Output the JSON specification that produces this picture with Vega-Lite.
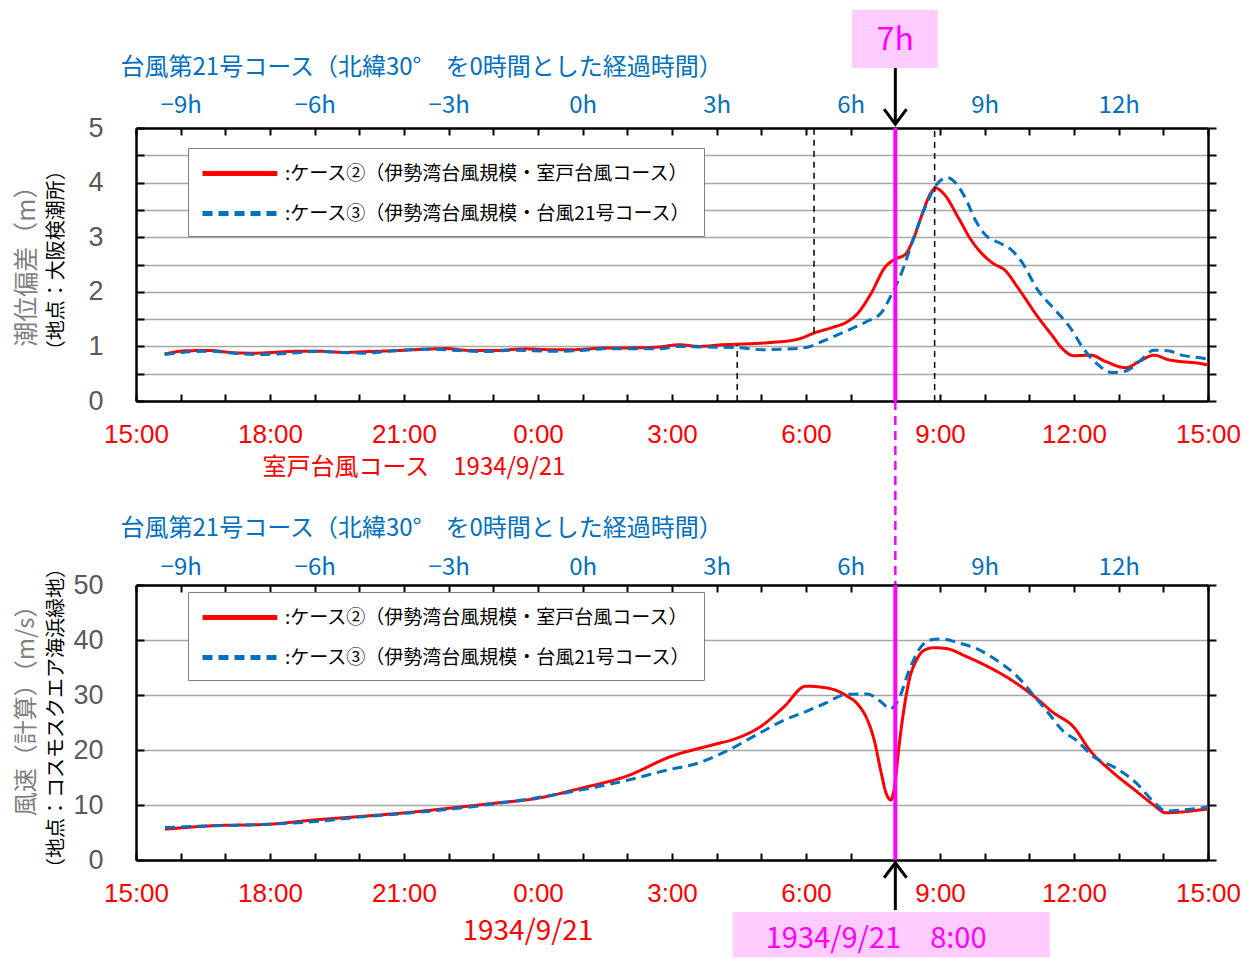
{
 "$schema": "https://vega.github.io/schema/vega-lite/v6.json",
 "padding": {"left": 15, "top": 10, "right": 0, "bottom": 0},
 "background": "white",
 "config": {"view": {"stroke": null}, "font": "Noto Sans CJK JP"},
 "datasets": {
  "top": [
   {"h":0.64,"v":0.86,"s":"case2"},{"h":1.13,"v":0.92,"s":"case2"},{"h":1.66,"v":0.925,"s":"case2"},{"h":2.1,"v":0.89,"s":"case2"},{"h":2.63,"v":0.875,"s":"case2"},{"h":3.07,"v":0.89,"s":"case2"},{"h":3.6,"v":0.91,"s":"case2"},{"h":4.13,"v":0.91,"s":"case2"},{"h":4.66,"v":0.89,"s":"case2"},{"h":5.19,"v":0.905,"s":"case2"},{"h":5.9,"v":0.925,"s":"case2"},{"h":6.51,"v":0.95,"s":"case2"},{"h":6.95,"v":0.96,"s":"case2"},{"h":7.48,"v":0.925,"s":"case2"},{"h":8.01,"v":0.925,"s":"case2"},{"h":8.72,"v":0.955,"s":"case2"},{"h":9.25,"v":0.94,"s":"case2"},{"h":9.78,"v":0.94,"s":"case2"},{"h":10.49,"v":0.97,"s":"case2"},{"h":11.28,"v":0.975,"s":"case2"},{"h":11.72,"v":0.99,"s":"case2"},{"h":12.16,"v":1.03,"s":"case2"},{"h":12.62,"v":1.0,"s":"case2"},{"h":13.13,"v":1.03,"s":"case2"},{"h":13.48,"v":1.04,"s":"case2"},{"h":14.19,"v":1.07,"s":"case2"},{"h":14.81,"v":1.13,"s":"case2"},{"h":15.2,"v":1.25,"s":"case2"},{"h":15.6,"v":1.35,"s":"case2"},{"h":15.9,"v":1.44,"s":"case2"},{"h":16.14,"v":1.59,"s":"case2"},{"h":16.45,"v":1.96,"s":"case2"},{"h":16.77,"v":2.45,"s":"case2"},{"h":17.0,"v":2.6,"s":"case2"},{"h":17.23,"v":2.69,"s":"case2"},{"h":17.39,"v":2.94,"s":"case2"},{"h":17.63,"v":3.49,"s":"case2"},{"h":17.78,"v":3.79,"s":"case2"},{"h":17.9,"v":3.9,"s":"case2"},{"h":18.09,"v":3.79,"s":"case2"},{"h":18.41,"v":3.36,"s":"case2"},{"h":18.68,"v":2.97,"s":"case2"},{"h":18.95,"v":2.69,"s":"case2"},{"h":19.19,"v":2.52,"s":"case2"},{"h":19.46,"v":2.39,"s":"case2"},{"h":19.74,"v":2.08,"s":"case2"},{"h":20.2,"v":1.53,"s":"case2"},{"h":20.52,"v":1.19,"s":"case2"},{"h":20.75,"v":0.95,"s":"case2"},{"h":20.99,"v":0.83,"s":"case2"},{"h":21.38,"v":0.84,"s":"case2"},{"h":21.69,"v":0.73,"s":"case2"},{"h":22.16,"v":0.61,"s":"case2"},{"h":22.47,"v":0.73,"s":"case2"},{"h":22.79,"v":0.84,"s":"case2"},{"h":23.1,"v":0.76,"s":"case2"},{"h":23.41,"v":0.72,"s":"case2"},{"h":23.72,"v":0.7,"s":"case2"},{"h":24.0,"v":0.66,"s":"case2"},
   {"h":0.64,"v":0.85,"s":"case3"},{"h":1.22,"v":0.9,"s":"case3"},{"h":1.66,"v":0.91,"s":"case3"},{"h":2.19,"v":0.875,"s":"case3"},{"h":2.72,"v":0.85,"s":"case3"},{"h":3.16,"v":0.86,"s":"case3"},{"h":3.69,"v":0.89,"s":"case3"},{"h":4.04,"v":0.91,"s":"case3"},{"h":4.57,"v":0.89,"s":"case3"},{"h":5.1,"v":0.875,"s":"case3"},{"h":5.63,"v":0.91,"s":"case3"},{"h":6.51,"v":0.95,"s":"case3"},{"h":7.22,"v":0.925,"s":"case3"},{"h":7.84,"v":0.905,"s":"case3"},{"h":8.37,"v":0.93,"s":"case3"},{"h":9.43,"v":0.91,"s":"case3"},{"h":9.96,"v":0.925,"s":"case3"},{"h":10.49,"v":0.955,"s":"case3"},{"h":11.72,"v":0.955,"s":"case3"},{"h":12.16,"v":1.0,"s":"case3"},{"h":12.62,"v":0.99,"s":"case3"},{"h":13.4,"v":0.98,"s":"case3"},{"h":14.03,"v":0.94,"s":"case3"},{"h":14.58,"v":0.95,"s":"case3"},{"h":15.05,"v":0.99,"s":"case3"},{"h":15.36,"v":1.09,"s":"case3"},{"h":15.9,"v":1.28,"s":"case3"},{"h":16.37,"v":1.46,"s":"case3"},{"h":16.69,"v":1.62,"s":"case3"},{"h":16.92,"v":1.96,"s":"case3"},{"h":17.16,"v":2.39,"s":"case3"},{"h":17.39,"v":2.94,"s":"case3"},{"h":17.7,"v":3.61,"s":"case3"},{"h":17.94,"v":3.98,"s":"case3"},{"h":18.17,"v":4.09,"s":"case3"},{"h":18.33,"v":4.01,"s":"case3"},{"h":18.56,"v":3.73,"s":"case3"},{"h":18.8,"v":3.3,"s":"case3"},{"h":19.03,"v":3.03,"s":"case3"},{"h":19.35,"v":2.89,"s":"case3"},{"h":19.58,"v":2.78,"s":"case3"},{"h":19.81,"v":2.57,"s":"case3"},{"h":20.2,"v":2.02,"s":"case3"},{"h":20.6,"v":1.65,"s":"case3"},{"h":20.91,"v":1.35,"s":"case3"},{"h":21.22,"v":0.95,"s":"case3"},{"h":21.53,"v":0.67,"s":"case3"},{"h":21.85,"v":0.52,"s":"case3"},{"h":22.16,"v":0.55,"s":"case3"},{"h":22.47,"v":0.73,"s":"case3"},{"h":22.79,"v":0.93,"s":"case3"},{"h":23.1,"v":0.92,"s":"case3"},{"h":23.41,"v":0.84,"s":"case3"},{"h":23.72,"v":0.8,"s":"case3"},{"h":24.0,"v":0.77,"s":"case3"}
  ],
  "bottom": [
   {"h":0.65,"v":5.6,"s":"case2"},{"h":1.64,"v":6.2,"s":"case2"},{"h":2.97,"v":6.5,"s":"case2"},{"h":4.02,"v":7.3,"s":"case2"},{"h":5.0,"v":7.9,"s":"case2"},{"h":6.05,"v":8.6,"s":"case2"},{"h":7.11,"v":9.5,"s":"case2"},{"h":8.0,"v":10.3,"s":"case2"},{"h":8.97,"v":11.2,"s":"case2"},{"h":9.94,"v":13.0,"s":"case2"},{"h":11.0,"v":15.3,"s":"case2"},{"h":11.97,"v":18.8,"s":"case2"},{"h":12.94,"v":21.0,"s":"case2"},{"h":13.4,"v":22.0,"s":"case2"},{"h":13.99,"v":24.3,"s":"case2"},{"h":14.5,"v":27.8,"s":"case2"},{"h":15.0,"v":31.6,"s":"case2"},{"h":15.52,"v":31.2,"s":"case2"},{"h":15.9,"v":29.9,"s":"case2"},{"h":16.18,"v":28.1,"s":"case2"},{"h":16.38,"v":25.4,"s":"case2"},{"h":16.53,"v":21.7,"s":"case2"},{"h":16.69,"v":15.6,"s":"case2"},{"h":16.8,"v":12.0,"s":"case2"},{"h":16.9,"v":10.9,"s":"case2"},{"h":17.0,"v":14.4,"s":"case2"},{"h":17.08,"v":20.5,"s":"case2"},{"h":17.2,"v":27.8,"s":"case2"},{"h":17.31,"v":32.7,"s":"case2"},{"h":17.47,"v":36.3,"s":"case2"},{"h":17.66,"v":38.2,"s":"case2"},{"h":17.86,"v":38.6,"s":"case2"},{"h":18.17,"v":38.4,"s":"case2"},{"h":18.56,"v":37.1,"s":"case2"},{"h":19.11,"v":35.0,"s":"case2"},{"h":19.66,"v":32.4,"s":"case2"},{"h":20.13,"v":29.6,"s":"case2"},{"h":20.52,"v":26.9,"s":"case2"},{"h":21.0,"v":24.1,"s":"case2"},{"h":21.36,"v":19.9,"s":"case2"},{"h":21.83,"v":16.2,"s":"case2"},{"h":22.38,"v":12.6,"s":"case2"},{"h":22.77,"v":10.1,"s":"case2"},{"h":23.05,"v":8.6,"s":"case2"},{"h":24.0,"v":9.3,"s":"case2"},
   {"h":0.65,"v":5.9,"s":"case3"},{"h":1.64,"v":6.2,"s":"case3"},{"h":2.97,"v":6.5,"s":"case3"},{"h":4.02,"v":7.0,"s":"case3"},{"h":5.0,"v":7.8,"s":"case3"},{"h":6.05,"v":8.5,"s":"case3"},{"h":7.11,"v":9.3,"s":"case3"},{"h":8.0,"v":10.2,"s":"case3"},{"h":8.97,"v":11.3,"s":"case3"},{"h":9.94,"v":12.7,"s":"case3"},{"h":11.0,"v":14.5,"s":"case3"},{"h":11.97,"v":16.5,"s":"case3"},{"h":12.5,"v":17.4,"s":"case3"},{"h":13.17,"v":19.6,"s":"case3"},{"h":13.99,"v":23.2,"s":"case3"},{"h":14.5,"v":25.4,"s":"case3"},{"h":14.97,"v":26.9,"s":"case3"},{"h":15.43,"v":28.5,"s":"case3"},{"h":15.9,"v":30.1,"s":"case3"},{"h":16.37,"v":30.2,"s":"case3"},{"h":16.69,"v":28.7,"s":"case3"},{"h":16.88,"v":27.5,"s":"case3"},{"h":17.08,"v":29.3,"s":"case3"},{"h":17.31,"v":34.5,"s":"case3"},{"h":17.55,"v":38.5,"s":"case3"},{"h":17.78,"v":40.0,"s":"case3"},{"h":18.02,"v":40.2,"s":"case3"},{"h":18.41,"v":39.5,"s":"case3"},{"h":18.88,"v":38.2,"s":"case3"},{"h":19.27,"v":36.3,"s":"case3"},{"h":19.74,"v":33.3,"s":"case3"},{"h":20.13,"v":29.6,"s":"case3"},{"h":20.44,"v":26.6,"s":"case3"},{"h":20.75,"v":23.5,"s":"case3"},{"h":21.06,"v":21.7,"s":"case3"},{"h":21.45,"v":18.7,"s":"case3"},{"h":21.92,"v":16.8,"s":"case3"},{"h":22.38,"v":14.1,"s":"case3"},{"h":22.77,"v":10.7,"s":"case3"},{"h":23.05,"v":8.9,"s":"case3"},{"h":23.55,"v":9.2,"s":"case3"},{"h":24.0,"v":9.6,"s":"case3"}
  ]
 },
 "bounds": "flush",
 "spacing": 184,
 "resolve": {"scale": {"x": "independent", "y": "independent", "color": "independent", "strokeDash": "independent"}, "legend": {"color": "independent", "strokeDash": "independent"}},
 "vconcat": [
  {
   "width": 1072, "height": 273,
   "resolve": {"axis": {"x": "independent", "y": "independent"}},
   "layer": [
    {
     "data": {"name": "top"},
     "mark": {"type": "line", "interpolate": "monotone", "strokeWidth": 3},
     "encoding": {
      "x": {"field": "h", "type": "quantitative", "scale": {"domain": [0, 24], "nice": false, "zero": false},
       "axis": {"orient": "bottom", "values": [0,1,2,3,4,5,6,7,8,9,10,11,12,13,14,15,16,17,18,19,20,21,22,23,24], "labelExpr": "datum.value % 3 == 0 ? ((datum.value + 15) % 24) + ':00' : ''", "labelColor": "#FF0000", "labelFont": "Liberation Sans", "labelFontSize": 26, "labelPadding": 27, "labelFlush": false, "labelOverlap": false, "labelBound": false, "tickSize": -7, "tickColor": "black", "tickWidth": 2, "domainColor": "black", "domainWidth": 2.5, "grid": false, "title": "室戸台風コース　1934/9/21", "titleColor": "#FF0000", "titleFont": "Noto Sans CJK JP", "titleFontSize": 24, "titleFontWeight": "normal", "titleAnchor": "start", "titleAlign": "left", "titleBaseline": "middle", "titleX": 126, "titleY": 66}},
      "y": {"field": "v", "type": "quantitative", "scale": {"domain": [0, 5], "nice": false},
       "axis": {"orient": "left", "values": [0,0.5,1,1.5,2,2.5,3,3.5,4,4.5,5], "labelExpr": "datum.value % 1 == 0 ? '' + datum.value : ''", "labelColor": "#595959", "labelFont": "Liberation Sans", "labelFontSize": 27, "labelPadding": 41, "labelOverlap": false, "labelBound": false, "tickSize": -8, "tickColor": "black", "tickWidth": 2, "domainColor": "black", "domainWidth": 2.5, "grid": true, "gridColor": "#A6A6A6", "gridWidth": 1.5, "title": null}},
      "color": {"field": "s", "type": "nominal", "scale": {"domain": ["case2", "case3"], "range": ["#FF0000", "#0070C0"]},
       "legend": {"orient": "none", "legendX": 52, "legendY": 20, "title": null, "direction": "vertical", "fillColor": "white", "strokeColor": "#808080", "padding": 12, "rowPadding": 16, "symbolType": "M -1 0 L 5.8 0", "symbolSize": 484, "symbolStrokeWidth": 5, "labelFontSize": 19, "labelFont": "Noto Sans CJK JP", "labelColor": "black", "labelLimit": 0, "labelOffset": 58, "labelExpr": "datum.value == 'case2' ? ':ケース②（伊勢湾台風規模・室戸台風コース）' : ':ケース③（伊勢湾台風規模・台風21号コース）'"}},
      "strokeDash": {"field": "s", "type": "nominal", "scale": {"domain": ["case2", "case3"], "range": [[1, 0], [10, 6]]},
       "legend": {"orient": "none", "legendX": 52, "legendY": 20, "title": null, "direction": "vertical", "fillColor": "white", "strokeColor": "#808080", "padding": 12, "rowPadding": 16, "symbolType": "M -1 0 L 5.8 0", "symbolSize": 484, "symbolStrokeWidth": 5, "labelFontSize": 19, "labelFont": "Noto Sans CJK JP", "labelColor": "black", "labelLimit": 0, "labelOffset": 58, "labelExpr": "datum.value == 'case2' ? ':ケース②（伊勢湾台風規模・室戸台風コース）' : ':ケース③（伊勢湾台風規模・台風21号コース）'"}}
     }
    },
    {
     "data": {"values": [{}]},
     "mark": {"type": "rule", "color": "#FF00FF", "strokeWidth": 4},
     "encoding": {
      "x": {"datum": 17, "type": "quantitative", "scale": {"domain": [0, 24], "nice": false, "zero": false},
       "axis": {"orient": "top", "values": [0,1,2,3,4,5,6,7,8,9,10,11,12,13,14,15,16,17,18,19,20,21,22,23,24], "labelExpr": "(datum.value - 10) % 3 == 0 ? ((datum.value < 10 ? '−' : '') + abs(datum.value - 10) + 'h') : ''", "labelColor": "#0070C0", "labelFont": "Noto Sans CJK JP", "labelFontSize": 24, "labelPadding": 18, "labelFlush": false, "labelOverlap": false, "labelBound": false, "tickSize": -7, "tickColor": "black", "tickWidth": 2, "domainColor": "black", "domainWidth": 2.5, "grid": false, "title": "台風第21号コース（北緯30°　を0時間とした経過時間）", "titleColor": "#0070C0", "titleFont": "Noto Sans CJK JP", "titleFontSize": 24, "titleFontWeight": "normal", "titleAnchor": "start", "titleAlign": "left", "titleBaseline": "middle", "titleX": -16, "titleY": -61}},
      "y": {"datum": 0, "type": "quantitative", "scale": {"domain": [0, 5], "nice": false},
       "axis": {"orient": "right", "values": [0,0.5,1,1.5,2,2.5,3,3.5,4,4.5,5], "labels": false, "tickSize": 8, "tickColor": "black", "tickWidth": 2, "domainColor": "black", "domainWidth": 2.5, "grid": false, "title": null}},
      "y2": {"datum": 5}
     }
    },
    {
     "data": {"values": [{}]},
     "mark": {"type": "rule", "color": "#FF00FF", "strokeWidth": 2.5, "strokeDash": [9, 6]},
     "encoding": {
      "x": {"datum": 17, "type": "quantitative", "scale": {"domain": [0, 24], "nice": false, "zero": false}, "axis": null},
      "y": {"datum": 0, "type": "quantitative", "scale": {"domain": [0, 5], "nice": false}, "axis": null},
      "y2": {"datum": -3.37}
     }
    },
    {
     "data": {"values": [{"h": 13.46, "a": 0, "b": 1.03}, {"h": 15.18, "a": 1.25, "b": 5}, {"h": 17.88, "a": 0, "b": 5}]},
     "mark": {"type": "rule", "color": "black", "strokeWidth": 1.5, "strokeDash": [6, 5]},
     "encoding": {
      "x": {"field": "h", "type": "quantitative", "scale": {"domain": [0, 24], "nice": false, "zero": false}, "axis": null},
      "y": {"field": "a", "type": "quantitative", "scale": {"domain": [0, 5], "nice": false}, "axis": null},
      "y2": {"field": "b"}
     }
    },
    {
     "data": {"values": [{}]},
     "mark": {"type": "rect", "color": "#FFCCFF"},
     "encoding": {
      "x": {"datum": 16.03, "type": "quantitative", "scale": {"domain": [0, 24], "nice": false, "zero": false}, "axis": null},
      "x2": {"datum": 17.95},
      "y": {"datum": 7.16, "type": "quantitative", "scale": {"domain": [0, 5], "nice": false}, "axis": null},
      "y2": {"datum": 6.1}
     }
    },
    {
     "data": {"values": [{}]},
     "mark": {"type": "text", "text": "7h", "color": "#FF00FF", "fontSize": 32, "font": "Noto Sans CJK JP", "align": "center", "baseline": "middle"},
     "encoding": {
      "x": {"datum": 17, "type": "quantitative", "scale": {"domain": [0, 24], "nice": false, "zero": false}, "axis": null},
      "y": {"datum": 6.61, "type": "quantitative", "scale": {"domain": [0, 5], "nice": false}, "axis": null}
     }
    },
    {
     "data": {"values": [{}]},
     "mark": {"type": "rule", "color": "black", "strokeWidth": 3},
     "encoding": {
      "x": {"datum": 17, "type": "quantitative", "scale": {"domain": [0, 24], "nice": false, "zero": false}, "axis": null},
      "y": {"datum": 6.1, "type": "quantitative", "scale": {"domain": [0, 5], "nice": false}, "axis": null},
      "y2": {"datum": 5.08}
     }
    },
    {
     "data": {"values": [{}]},
     "mark": {"type": "point", "shape": "M -0.75 -1 L 0 0 L 0.75 -1", "filled": false, "stroke": "black", "strokeWidth": 3, "size": 900, "opacity": 1},
     "encoding": {
      "x": {"datum": 17, "type": "quantitative", "scale": {"domain": [0, 24], "nice": false, "zero": false}, "axis": null},
      "y": {"datum": 5.07, "type": "quantitative", "scale": {"domain": [0, 5], "nice": false}, "axis": null}
     }
    },
    {
     "data": {"values": [{}]},
     "mark": {"type": "text", "text": "潮位偏差（m）", "color": "#7F7F7F", "fontSize": 25, "font": "Noto Sans CJK JP", "angle": 270, "align": "center", "baseline": "middle"},
     "encoding": {
      "x": {"datum": -2.44, "type": "quantitative", "scale": {"domain": [0, 24], "nice": false, "zero": false}, "axis": null},
      "y": {"datum": 2.58, "type": "quantitative", "scale": {"domain": [0, 5], "nice": false}, "axis": null}
     }
    },
    {
     "data": {"values": [{}]},
     "mark": {"type": "text", "text": "（地点：大阪検潮所）", "color": "black", "fontSize": 20, "font": "Noto Sans CJK JP", "angle": 270, "align": "center", "baseline": "middle"},
     "encoding": {
      "x": {"datum": -1.77, "type": "quantitative", "scale": {"domain": [0, 24], "nice": false, "zero": false}, "axis": null},
      "y": {"datum": 2.58, "type": "quantitative", "scale": {"domain": [0, 5], "nice": false}, "axis": null}
     }
    }
   ]
  },
  {
   "width": 1072, "height": 275,
   "resolve": {"axis": {"x": "independent", "y": "independent"}},
   "layer": [
    {
     "data": {"name": "bottom"},
     "mark": {"type": "line", "interpolate": "monotone", "strokeWidth": 3},
     "encoding": {
      "x": {"field": "h", "type": "quantitative", "scale": {"domain": [0, 24], "nice": false, "zero": false},
       "axis": {"orient": "bottom", "values": [0,1,2,3,4,5,6,7,8,9,10,11,12,13,14,15,16,17,18,19,20,21,22,23,24], "labelExpr": "datum.value % 3 == 0 ? ((datum.value + 15) % 24) + ':00' : ''", "labelColor": "#FF0000", "labelFont": "Liberation Sans", "labelFontSize": 26, "labelPadding": 27, "labelFlush": false, "labelOverlap": false, "labelBound": false, "tickSize": -7, "tickColor": "black", "tickWidth": 2, "domainColor": "black", "domainWidth": 2.5, "grid": false, "title": "1934/9/21", "titleColor": "#FF0000", "titleFont": "Noto Sans CJK JP", "titleFontSize": 28, "titleFontWeight": "normal", "titleAnchor": "start", "titleAlign": "left", "titleBaseline": "middle", "titleX": 326, "titleY": 71}},
      "y": {"field": "v", "type": "quantitative", "scale": {"domain": [0, 50], "nice": false},
       "axis": {"orient": "left", "values": [0,10,20,30,40,50], "labelColor": "#595959", "labelFont": "Liberation Sans", "labelFontSize": 27, "labelPadding": 41, "labelOverlap": false, "labelBound": false, "tickSize": -8, "tickColor": "black", "tickWidth": 2, "domainColor": "black", "domainWidth": 2.5, "grid": true, "gridColor": "#A6A6A6", "gridWidth": 1.5, "title": null}},
      "color": {"field": "s", "type": "nominal", "scale": {"domain": ["case2", "case3"], "range": ["#FF0000", "#0070C0"]},
       "legend": {"orient": "none", "legendX": 52, "legendY": 7, "title": null, "direction": "vertical", "fillColor": "white", "strokeColor": "#808080", "padding": 12, "rowPadding": 16, "symbolType": "M -1 0 L 5.8 0", "symbolSize": 484, "symbolStrokeWidth": 5, "labelFontSize": 19, "labelFont": "Noto Sans CJK JP", "labelColor": "black", "labelLimit": 0, "labelOffset": 58, "labelExpr": "datum.value == 'case2' ? ':ケース②（伊勢湾台風規模・室戸台風コース）' : ':ケース③（伊勢湾台風規模・台風21号コース）'"}},
      "strokeDash": {"field": "s", "type": "nominal", "scale": {"domain": ["case2", "case3"], "range": [[1, 0], [10, 6]]},
       "legend": {"orient": "none", "legendX": 52, "legendY": 7, "title": null, "direction": "vertical", "fillColor": "white", "strokeColor": "#808080", "padding": 12, "rowPadding": 16, "symbolType": "M -1 0 L 5.8 0", "symbolSize": 484, "symbolStrokeWidth": 5, "labelFontSize": 19, "labelFont": "Noto Sans CJK JP", "labelColor": "black", "labelLimit": 0, "labelOffset": 58, "labelExpr": "datum.value == 'case2' ? ':ケース②（伊勢湾台風規模・室戸台風コース）' : ':ケース③（伊勢湾台風規模・台風21号コース）'"}}
     }
    },
    {
     "data": {"values": [{}]},
     "mark": {"type": "rule", "color": "#FF00FF", "strokeWidth": 4},
     "encoding": {
      "x": {"datum": 17, "type": "quantitative", "scale": {"domain": [0, 24], "nice": false, "zero": false},
       "axis": {"orient": "top", "values": [0,1,2,3,4,5,6,7,8,9,10,11,12,13,14,15,16,17,18,19,20,21,22,23,24], "labelExpr": "(datum.value - 10) % 3 == 0 ? ((datum.value < 10 ? '−' : '') + abs(datum.value - 10) + 'h') : ''", "labelColor": "#0070C0", "labelFont": "Noto Sans CJK JP", "labelFontSize": 24, "labelPadding": 13, "labelFlush": false, "labelOverlap": false, "labelBound": false, "tickSize": -7, "tickColor": "black", "tickWidth": 2, "domainColor": "black", "domainWidth": 2.5, "grid": false, "title": "台風第21号コース（北緯30°　を0時間とした経過時間）", "titleColor": "#0070C0", "titleFont": "Noto Sans CJK JP", "titleFontSize": 24, "titleFontWeight": "normal", "titleAnchor": "start", "titleAlign": "left", "titleBaseline": "middle", "titleX": -16, "titleY": -57}},
      "y": {"datum": 0, "type": "quantitative", "scale": {"domain": [0, 50], "nice": false},
       "axis": {"orient": "right", "values": [0,10,20,30,40,50], "labels": false, "tickSize": 8, "tickColor": "black", "tickWidth": 2, "domainColor": "black", "domainWidth": 2.5, "grid": false, "title": null}},
      "y2": {"datum": 50}
     }
    },
    {
     "data": {"values": [{}]},
     "mark": {"type": "rect", "color": "#FFCCFF"},
     "encoding": {
      "x": {"datum": 13.36, "type": "quantitative", "scale": {"domain": [0, 24], "nice": false, "zero": false}, "axis": null},
      "x2": {"datum": 20.46},
      "y": {"datum": -9.45, "type": "quantitative", "scale": {"domain": [0, 50], "nice": false}, "axis": null},
      "y2": {"datum": -17.7}
     }
    },
    {
     "data": {"values": [{}]},
     "mark": {"type": "text", "text": "1934/9/21　8:00", "color": "#FF00FF", "fontSize": 29, "font": "Noto Sans CJK JP", "align": "center", "baseline": "middle"},
     "encoding": {
      "x": {"datum": 16.57, "type": "quantitative", "scale": {"domain": [0, 24], "nice": false, "zero": false}, "axis": null},
      "y": {"datum": -14.3, "type": "quantitative", "scale": {"domain": [0, 50], "nice": false}, "axis": null}
     }
    },
    {
     "data": {"values": [{}]},
     "mark": {"type": "rule", "color": "black", "strokeWidth": 3},
     "encoding": {
      "x": {"datum": 17, "type": "quantitative", "scale": {"domain": [0, 24], "nice": false, "zero": false}, "axis": null},
      "y": {"datum": -9.1, "type": "quantitative", "scale": {"domain": [0, 50], "nice": false}, "axis": null},
      "y2": {"datum": -0.6}
     }
    },
    {
     "data": {"values": [{}]},
     "mark": {"type": "point", "shape": "M -0.75 1 L 0 0 L 0.75 1", "filled": false, "stroke": "black", "strokeWidth": 3, "size": 900, "opacity": 1},
     "encoding": {
      "x": {"datum": 17, "type": "quantitative", "scale": {"domain": [0, 24], "nice": false, "zero": false}, "axis": null},
      "y": {"datum": -0.5, "type": "quantitative", "scale": {"domain": [0, 50], "nice": false}, "axis": null}
     }
    },
    {
     "data": {"values": [{}]},
     "mark": {"type": "text", "text": "風速（計算）（m/s）", "color": "#7F7F7F", "fontSize": 24, "font": "Noto Sans CJK JP", "angle": 270, "align": "center", "baseline": "middle"},
     "encoding": {
      "x": {"datum": -2.44, "type": "quantitative", "scale": {"domain": [0, 24], "nice": false, "zero": false}, "axis": null},
      "y": {"datum": 28.2, "type": "quantitative", "scale": {"domain": [0, 50], "nice": false}, "axis": null}
     }
    },
    {
     "data": {"values": [{}]},
     "mark": {"type": "text", "text": "（地点：コスモスクエア海浜緑地）", "color": "black", "fontSize": 20, "font": "Noto Sans CJK JP", "angle": 270, "align": "center", "baseline": "middle"},
     "encoding": {
      "x": {"datum": -1.77, "type": "quantitative", "scale": {"domain": [0, 24], "nice": false, "zero": false}, "axis": null},
      "y": {"datum": 25.8, "type": "quantitative", "scale": {"domain": [0, 50], "nice": false}, "axis": null}
     }
    }
   ]
  }
 ]
}
